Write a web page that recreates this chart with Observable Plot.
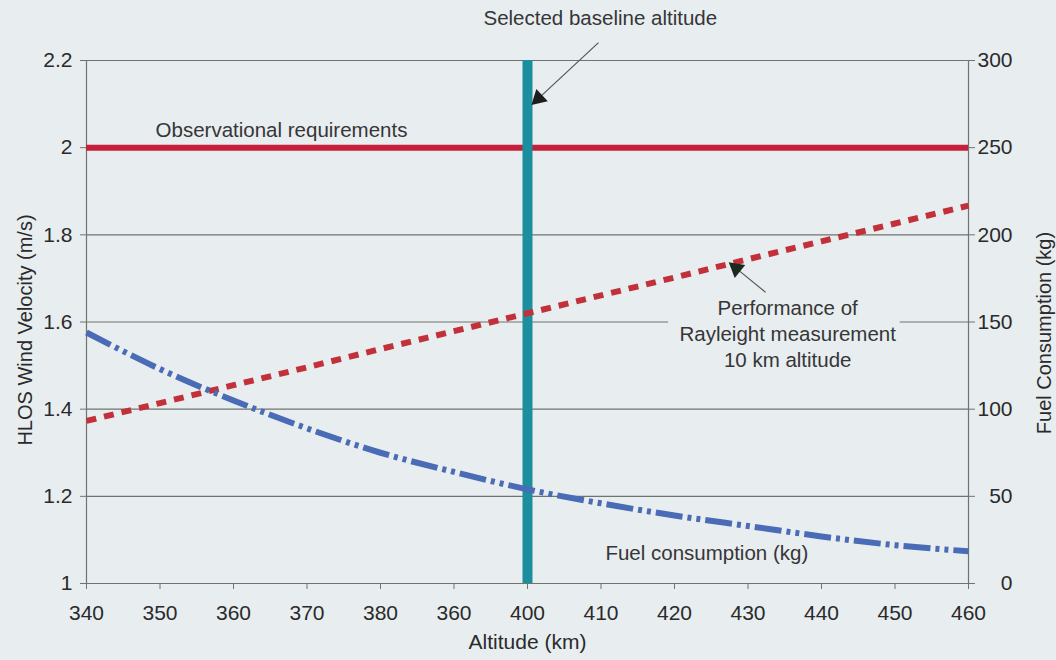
<!DOCTYPE html>
<html>
<head>
<meta charset="utf-8">
<script src="https://cdn.jsdelivr.net/npm/d3@7"></script>
<script src="https://cdn.jsdelivr.net/npm/@observablehq/plot@0.6"></script>
<style>
  html, body { margin: 0; padding: 0; background: #e8edf0; }
  #chart svg { display: block; }
</style>
</head>
<body>
<div id="chart"></div>
<script>
// Altitude trade-off: wind-velocity accuracy vs. fuel consumption
const altitudes = [340, 350, 360, 370, 380, 390, 400, 410, 420, 430, 440, 450, 460];
const xTickLabels = ["340", "350", "360", "370", "380", "360", "400", "410", "420", "430", "440", "450", "460"];

// HLOS wind velocity error of the Rayleigh channel, 10 km altitude (m/s)
const performance = [1.373, 1.414, 1.455, 1.496, 1.538, 1.579, 1.620, 1.661, 1.702, 1.744, 1.785, 1.826, 1.867];

// Fuel consumption (kg), read on the right-hand axis
const fuel = [144, 123, 105, 89, 75, 64, 54, 46, 39, 33, 27, 22, 18.5];

const requirement = 2;        // observational requirement (m/s)
const baselineAltitude = 400; // selected baseline altitude (km)

const leftTicks = [1, 1.2, 1.4, 1.6, 1.8, 2, 2.2];
const leftTickLabels = ["1", "1.2", "1.4", "1.6", "1.8", "2", "2.2"];
const rightTickLabels = ["0", "50", "100", "150", "200", "250", "300"];

// right axis: 0–300 kg spans the same height as 1–2.2 m/s
const fuelToVelocity = (kg) => 1 + kg * (1.2 / 300);

const perfData = altitudes.map((a, i) => ({altitude: a, value: performance[i]}));
const fuelData = altitudes.map((a, i) => ({altitude: a, value: fuelToVelocity(fuel[i])}));

const bg = "#e8edf0";
const grid = "#6f746f";
const ink = "#2a2a2a";
const note = "#363636";

const chart = Plot.plot({
  width: 1056,
  height: 660,
  marginLeft: 86,
  marginRight: 88,
  marginTop: 60,
  marginBottom: 77,
  style: {
    background: bg,
    fontFamily: "'Liberation Sans', Arial, sans-serif",
    fontSize: "21px",
    color: ink
  },
  x: {domain: [340, 460]},
  y: {domain: [1, 2.2]},
  marks: [
    // horizontal gridlines and the vertical plot borders
    Plot.ruleY(leftTicks, {stroke: grid, strokeWidth: 1.2}),
    Plot.ruleX([340, 460], {stroke: grid, strokeWidth: 1.2}),
    // gap in the 1.6 gridline behind the performance label
    Plot.rect([{x1: 419.2, x2: 450.7, y1: 1.585, y2: 1.615}],
      {x1: "x1", x2: "x2", y1: "y1", y2: "y2", fill: bg}),

    // axes
    Plot.axisX(altitudes, {
      tickSize: 6, tickPadding: 16, stroke: grid, fill: ink, label: null,
      tickFormat: (d) => xTickLabels[altitudes.indexOf(d)]
    }),
    Plot.axisY(leftTicks, {
      anchor: "left", tickSize: 6, tickPadding: 8, stroke: grid, fill: ink, label: null,
      tickFormat: (d) => leftTickLabels[leftTicks.indexOf(d)]
    }),
    Plot.axisY(leftTicks, {
      anchor: "right", tickSize: 6, tickPadding: 38, textAnchor: "end", stroke: grid, fill: ink, label: null,
      tickFormat: (d) => rightTickLabels[leftTicks.indexOf(d)]
    }),

    // axis titles
    Plot.text(["Altitude (km)"], {frameAnchor: "bottom", dy: 65, fontSize: 21, fill: ink}),
    Plot.text(["HLOS Wind Velocity (m/s)"],
      {frameAnchor: "left", textAnchor: "middle", dx: -61, dy: 8, rotate: -90, fontSize: 20, fill: ink}),
    Plot.text(["Fuel Consumption (kg)"],
      {frameAnchor: "right", textAnchor: "middle", dx: 76, dy: 11, rotate: -90, fontSize: 20, fill: ink}),

    // observational requirement
    Plot.ruleY([requirement], {stroke: "#c61f3c", strokeWidth: 6}),

    // selected baseline altitude
    Plot.ruleX([baselineAltitude], {stroke: "#1c8f9f", strokeWidth: 10}),

    // performance of Rayleigh measurement
    Plot.line(perfData, {
      x: "altitude", y: "value", stroke: "#c2313a", strokeWidth: 6,
      strokeDasharray: "10,8", strokeLinecap: "butt"
    }),

    // fuel consumption
    Plot.line(fuelData, {
      x: "altitude", y: "value", stroke: "#4a6bb5", strokeWidth: 6, curve: "monotone-x",
      strokeDasharray: "27,5,4,5,4,5", strokeLinecap: "butt"
    }),

    // annotations
    Plot.text(["Selected baseline altitude"], {x: 409.9, y: 2.296, fontSize: 20.5, fill: note}),
    Plot.link([{x1: 409.66, y1: 2.241, x2: 401.5, y2: 2.113}],
      {x1: "x1", y1: "y1", x2: "x2", y2: "y2", stroke: "#555", strokeWidth: 1.2}),
    Plot.dot([{x: 401.5, y: 2.113}], {x: "x", y: "y", symbol: "triangle2", r: 8, rotate: 227, fill: "#1d1d1d"}),

    Plot.text(["Observational requirements"], {x: 349.4, y: 2.039, textAnchor: "start", fontSize: 20.5, fill: note}),

    Plot.text(["Performance of\nRayleight measurement\n10 km altitude"],
      {x: 435.4, y: 1.576, lineHeight: 1.28, fontSize: 20.5, fill: note}),
    Plot.link([{x1: 432.4, y1: 1.668, x2: 428.4, y2: 1.723}],
      {x1: "x1", y1: "y1", x2: "x2", y2: "y2", stroke: "#555", strokeWidth: 1.2}),
    Plot.dot([{x: 428.4, y: 1.723}], {x: "x", y: "y", symbol: "triangle2", r: 8, rotate: 309, fill: "#1a2a1c"}),

    Plot.text(["Fuel consumption (kg)"], {x: 410.6, y: 1.069, textAnchor: "start", fontSize: 20.5, fill: note})
  ]
});

document.getElementById("chart").append(chart);
</script>
</body>
</html>
